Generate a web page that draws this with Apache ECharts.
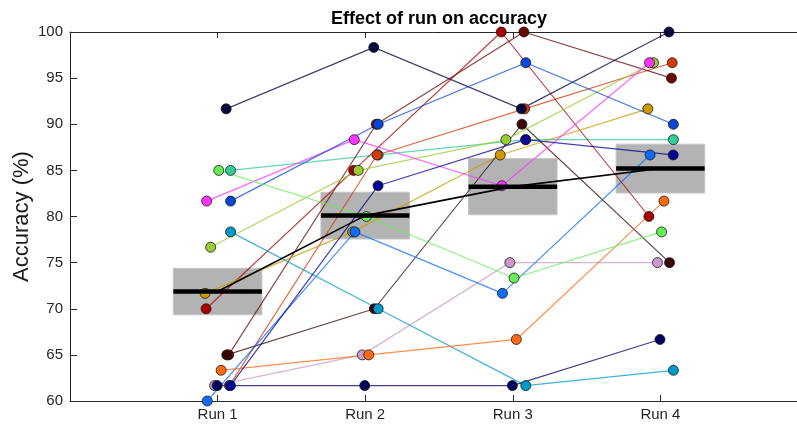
<!DOCTYPE html>
<html><head><meta charset="utf-8">
<script src="https://cdn.jsdelivr.net/npm/echarts@6/dist/echarts.min.js"></script>
<style>html,body{margin:0;padding:0;background:#fff}#c{width:797px;height:428px}</style>
</head><body><div id="c"></div>
<script>
const categories = ['Run 1', 'Run 2', 'Run 3', 'Run 4'];
const yTicks = [60, 65, 70, 75, 80, 85, 90, 95, 100];
const titleText = 'Effect of run on accuracy';
const yName = 'Accuracy (%)';

// one entry per subject (drawing order)
const subjectColors = ['#33cc99', '#d43a0a', '#6a0505', '#a80000', '#cc9900', '#3a0505', '#cc99cc', '#99cc33',
  '#ff33ff', '#03033d', '#0846d8', '#0b6dfa', '#0099cc', '#ff6a10', '#020296', '#66ee55', '#02025e'];
const subjectJitter = [0.088, 0.08, 0.075, -0.078, -0.085, 0.062, -0.02, -0.047,
  -0.074, 0.058, 0.088, -0.07, 0.088, 0.024, 0.087, 0.008, -0.003];
const run1 = [85, 61.67, 65, 70, 71.67, 65, 61.67, 76.67, 81.67, 91.67, 81.67, 60, 78.33, 63.33, 61.67, 85, 61.67];
const run2 = [86.67, 86.67, 90, 85, 78.33, 70, 65, 85, 88.33, 98.33, 90, 78.33, 70, 65, 83.33, 80, 61.67];
const run3 = [88.33, 91.67, 100, 100, 86.67, 90, 75, 88.33, 83.33, 91.67, 96.67, 71.67, 61.67, 66.67, 88.33, 73.33, 61.67];
const run4 = [88.33, 96.67, 95, 80, 91.67, 75, 75, 96.67, 96.67, 100, 90, 86.67, 63.33, 81.67, 86.67, 78.33, 66.67];
const runs = [run1, run2, run3, run4];

function hexA(hex, a) {
  const n = parseInt(hex.slice(1), 16);
  return 'rgba(' + ((n >> 16) & 255) + ',' + ((n >> 8) & 255) + ',' + (n & 255) + ',' + a + ')';
}

const stats = runs.map(function (r) {
  const n = r.length;
  const m = r.reduce(function (a, b) { return a + b; }, 0) / n;
  const v = r.reduce(function (a, b) { return a + (b - m) * (b - m); }, 0) / (n - 1);
  return { mean: m, se: Math.sqrt(v) / Math.sqrt(n) };
});

const axisColor = '#262626';
const series = [];

series.push({
  type: 'custom', z: 1, silent: true,
  data: stats.map(function (s, i) { return [i + 1, s.mean - s.se, s.mean + s.se]; }),
  renderItem: function (params, api) {
    const p1 = api.coord([api.value(0) - 0.3, api.value(2)]);
    const p2 = api.coord([api.value(0) + 0.3, api.value(1)]);
    return { type: 'rect', shape: { x: p1[0], y: p1[1], width: p2[0] - p1[0], height: p2[1] - p1[1] },
      style: { fill: '#b3b3b3', stroke: '#c4c4c4', lineWidth: 1 } };
  }
});

subjectColors.forEach(function (c, s) {
  series.push({
    type: 'line', z: 2, silent: true,
    symbol: 'circle', symbolSize: 10, showSymbol: true,
    data: runs.map(function (r, i) { return [i + 1 + subjectJitter[s], r[s]]; }),
    lineStyle: { color: hexA(c, 0.75), width: 1.2 },
    itemStyle: { color: c, borderColor: '#1a1a1a', borderWidth: 0.8, opacity: 1 },
    animation: false
  });
});

series.push({
  type: 'line', z: 5, silent: true, symbol: 'none',
  data: stats.map(function (s, i) { return [i + 1, s.mean]; }),
  lineStyle: { color: '#000', width: 1.6 }, animation: false
});

series.push({
  type: 'custom', z: 6, silent: true,
  data: stats.map(function (s, i) { return [i + 1, s.mean]; }),
  renderItem: function (params, api) {
    const p1 = api.coord([api.value(0) - 0.3, api.value(1)]);
    const p2 = api.coord([api.value(0) + 0.3, api.value(1)]);
    return { type: 'line', shape: { x1: p1[0], y1: p1[1], x2: p2[0], y2: p2[1] },
      style: { stroke: '#000', lineWidth: 4.5 } };
  }
});

const chart = echarts.init(document.getElementById('c'), null, { renderer: 'canvas' });
chart.setOption({
  animation: false,
  backgroundColor: '#fff',
  grid: { left: 70, top: 32, width: 738, height: 369, containLabel: false, outerBoundsMode: 'none' },
  graphic: [{
    type: 'text', x: 439, y: 10,
    style: { text: titleText, font: 'bold 18px "Liberation Sans", Arial, sans-serif', fill: '#000',
      textAlign: 'center', textVerticalAlign: 'top' }
  }],
  xAxis: [{
    type: 'value', min: 0, max: categories.length + 1, interval: 1,
    axisLine: { show: true, lineStyle: { color: axisColor, width: 1 } },
    axisTick: { show: true, inside: true, length: 6, lineStyle: { color: axisColor } },
    axisLabel: { color: axisColor, fontSize: 15, fontFamily: '"Liberation Sans", Arial, sans-serif', margin: 6,
      formatter: function (v) { return categories[v - 1] || ''; } },
    splitLine: { show: false }
  }, {
    type: 'value', position: 'top', min: 0, max: categories.length + 1, interval: 1,
    axisLine: { show: true, onZero: false, lineStyle: { color: axisColor, width: 1 } },
    axisTick: { show: true, inside: true, length: 6, lineStyle: { color: axisColor } },
    axisLabel: { show: false }, splitLine: { show: false }
  }],
  yAxis: {
    type: 'value', min: yTicks[0], max: yTicks[yTicks.length - 1], interval: yTicks[1] - yTicks[0],
    name: yName, nameLocation: 'middle', nameGap: 37, nameMoveOverlap: false,
    nameTextStyle: { color: '#1a1a1a', fontSize: 22, fontFamily: '"Liberation Sans", Arial, sans-serif' },
    axisLine: { show: true, lineStyle: { color: axisColor, width: 1 } },
    axisTick: { show: true, inside: true, length: 7, lineStyle: { color: axisColor } },
    axisLabel: { color: axisColor, fontSize: 15, fontFamily: '"Liberation Sans", Arial, sans-serif', margin: 7 },
    splitLine: { show: false }
  },
  series: series
});
</script>
</body></html>
